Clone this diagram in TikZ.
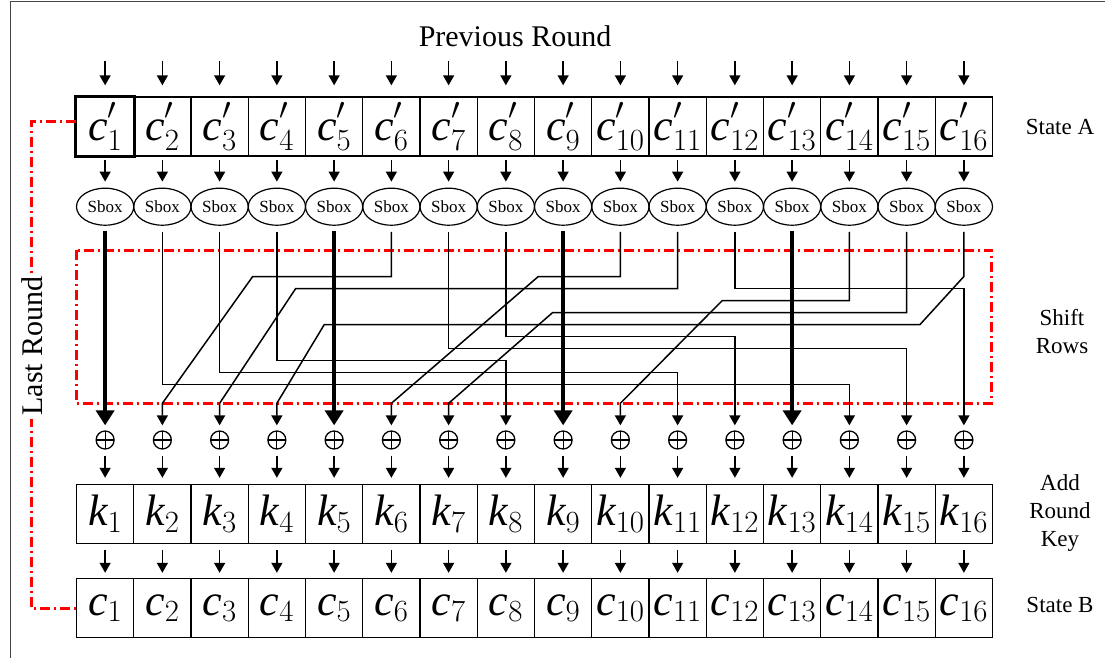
\RequirePackage{fix-cm}
\documentclass[tikz,border=0pt]{standalone}
\usepackage{fontspec}
\setmainfont{Liberation Serif}
\usetikzlibrary{arrows.meta,shapes.geometric}
\definecolor{redline}{RGB}{255,0,0}
\definecolor{framegray}{RGB}{70,70,70}
\newcommand{\rprime}{\raisebox{5pt}{$\scriptstyle\prime$}}
\tikzset{
  cell/.style={draw, line width=1.4pt, minimum width=57.25pt, minimum height=59pt, inner sep=0pt, font=\fontsize{44}{50}\selectfont},
  sbox/.style={draw, ellipse, line width=1.2pt, minimum width=57.25pt, minimum height=37pt, inner sep=0pt, font=\fontsize{17}{20}\selectfont},
  xorn/.style={circle, draw, line width=1.3pt, minimum size=18pt, inner sep=0pt,
    path picture={\draw[line width=1.2pt] (path picture bounding box.north) -- (path picture bounding box.south) (path picture bounding box.west) -- (path picture bounding box.east);}},
  arr/.style={line width=1.5pt, -{Triangle[width=11pt,length=10pt]}},
  wire/.style={line width=1.5pt, -{Triangle[width=11pt,length=10pt]}, shorten >=5pt, shorten <=6pt},
  bigarr/.style={line width=4pt, -{Triangle[width=18pt,length=15pt]}, shorten >=5pt, shorten <=5pt},
  lbl/.style={font=\fontsize{23}{28}\selectfont, align=center},
  titletext/.style={font=\fontsize{30}{36}\selectfont},
  redbox/.style={draw=redline, line width=3pt, dash pattern=on 10pt off 4pt on 2pt off 4pt},
}
\begin{document}
\begin{tikzpicture}[x=1pt,y=-1pt]
\useasboundingbox (0,0) rectangle (1105,658);
% frame
\draw[framegray, line width=1pt] (10,658) -- (10,2) -- (1105,2);
\node[titletext] (prev) at (515,36) {Previous Round};
% rows of nodes
\foreach \i in {1,...,16} {
  \pgfmathsetmacro\xx{76.5+57.25*(\i-0.5)}
  \coordinate (P\i) at (\xx,61);
  \node[cell] (A\i) at (\xx,126.5) {$\mathit{c}^{\rprime}_{\i}$};
  \node[sbox] (S\i) at (\xx,206.7) {Sbox};
  \node[xorn] (X\i) at (\xx,440) {};
  \node[cell] (K\i) at (\xx,514) {$\mathit{k}_{\i}$};
  \node[cell] (B\i) at (\xx,608) {$\mathit{c}_{\i}$};
  \draw[arr, shorten >=11pt] (P\i) -- (A\i.north);
  \draw[arr, shorten <=3pt, shorten >=6pt] (A\i.south) -- (S\i.north);
  \draw[arr, shorten <=6pt, shorten >=6pt] (X\i.south) -- (K\i.north);
  \draw[arr, shorten <=6pt, shorten >=5pt] (K\i.south) -- (B\i.north);
}
% highlighted first cell
\draw[line width=3pt] (A1.south west) rectangle (A1.north east);
% shift rows box
\draw[redbox] (76,250) rectangle (991.7,403.3);
% thick straight wires
\foreach \i in {1,5,9,13} {
  \draw[bigarr] (S\i.south) -- (X\i.north);
}
% shifted wires: leftward with diagonal
\draw[wire] (S6.south) |- (252.7,276.5) -- (X2.north |- 0,403.3) -- (X2.north);
\draw[wire] (S10.south) |- (538.3,276.5) -- (X6.north |- 0,403.3) -- (X6.north);
\draw[wire] (S16.south) -- (S16.south |- 0,276.5) -- (920,324.5) -- (324.3,324.5) -- (X4.north |- 0,403.3) -- (X4.north);
\draw[wire] (S11.south) |- (295.7,288.5) -- (X3.north |- 0,403.3) -- (X3.north);
\draw[wire] (S14.south) |- (722.3,300.5) -- (X10.north |- 0,403.3) -- (X10.north);
\draw[wire] (S15.south) |- (552.7,312.5) -- (X7.north |- 0,403.3) -- (X7.north);
% shifted wires: rightward
\draw[wire] (S12.south) |- (X16.north |- 0,288.5) -- (X16.north);
\draw[wire] (S8.south) |- (X12.north |- 0,336.5) -- (X12.north);
\draw[wire] (S7.south) |- (X15.north |- 0,348.5) -- (X15.north);
\draw[wire] (S4.south) |- (X8.north |- 0,360.5) -- (X8.north);
\draw[wire] (S3.south) |- (X11.north |- 0,372.5) -- (X11.north);
\draw[wire] (S2.south) |- (X14.north |- 0,384.5) -- (X14.north);
% last round loop
\draw[redbox] (A1.west |- 0,122) -- (31,122) -- (31,608) -- (B1.west);
\node[titletext, rotate=90, fill=white, inner sep=3pt] (last) at (32,346) {Last Round};
% right labels
\node[lbl] (la) at (1060,127) {State A};
\node[lbl] (lsr) at (1062,332) {Shift\\Rows};
\node[lbl] (lark) at (1060,513) {Add\\Round\\Key};
\node[lbl] (lb) at (1060,605) {State B};
\end{tikzpicture}
\end{document}
